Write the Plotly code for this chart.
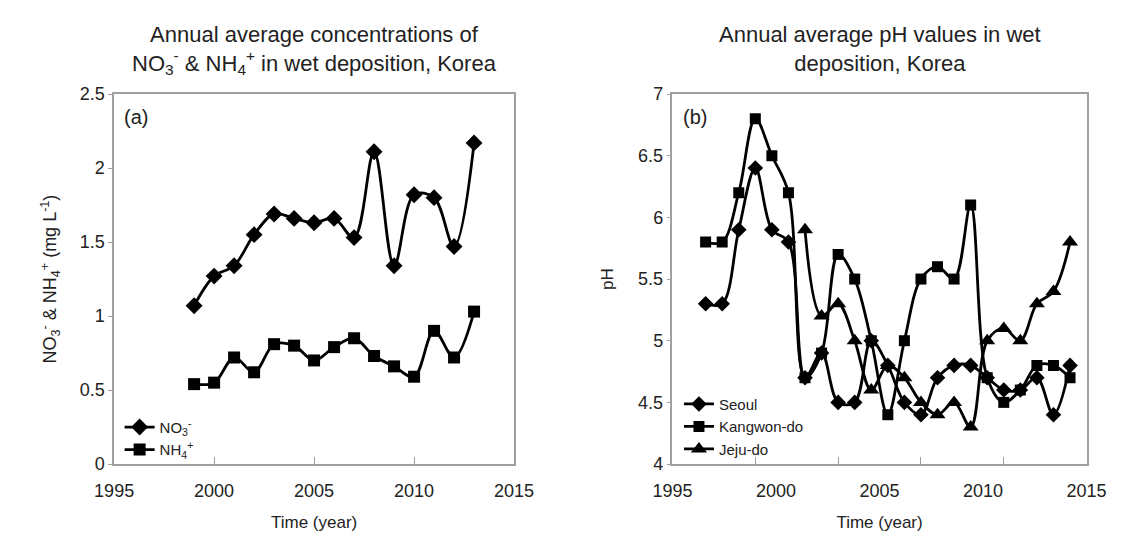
import plotly.graph_objects as go

# ---- data (a) ----
years_a = [1999, 2000, 2001, 2002, 2003, 2004, 2005, 2006, 2007, 2008, 2009, 2010, 2011, 2012, 2013]
no3 = [1.07, 1.27, 1.34, 1.55, 1.69, 1.66, 1.63, 1.66, 1.53, 2.11, 1.34, 1.82, 1.80, 1.47, 2.17]
nh4 = [0.54, 0.55, 0.72, 0.62, 0.81, 0.80, 0.70, 0.79, 0.85, 0.73, 0.66, 0.59, 0.90, 0.72, 1.03]

# ---- data (b) ----
years_b = [1992, 1993, 1994, 1995, 1996, 1997, 1998, 1999, 2000, 2001, 2002, 2003,
           2004, 2005, 2006, 2007, 2008, 2009, 2010, 2011, 2012, 2013, 2014]
seoul = [5.3, 5.3, 5.9, 6.4, 5.9, 5.8, 4.7, 4.9, 4.5, 4.5, 5.0, 4.8,
         4.5, 4.4, 4.7, 4.8, 4.8, 4.7, 4.6, 4.6, 4.7, 4.4, 4.8]
kangwon = [5.8, 5.8, 6.2, 6.8, 6.5, 6.2, 4.7, 4.9, 5.7, 5.5, 5.0, 4.4,
           5.0, 5.5, 5.6, 5.5, 6.1, 4.7, 4.5, 4.6, 4.8, 4.8, 4.7]
years_jeju = [1998, 1999, 2000, 2001, 2002, 2003, 2004, 2005, 2006, 2007, 2008,
              2009, 2010, 2011, 2012, 2013, 2014]
jeju = [5.9, 5.2, 5.3, 5.0, 4.6, 4.8, 4.7, 4.5, 4.4, 4.5, 4.3, 5.0, 5.1, 5.0, 5.3, 5.4, 5.8]

# tick labels as printed on the reference
b_tick_labels = ["1995", "2000", "2005", "2010", "2015"]

FONT = "Liberation Sans, Arial, sans-serif"
W, H = 1123, 537
AX = "#a0a0a0"
TXT = "#222"

def px_x(p):
    return p / W

def px_y(p):
    return 1 - p / H

fig = go.Figure()

line_kw = dict(color="black", width=2.8, shape="spline", smoothing=1.0)

fig.add_trace(go.Scatter(x=years_a, y=no3, mode="lines+markers", name="NO<sub>3</sub><sup>-</sup>",
                         line=line_kw, marker=dict(symbol="diamond", size=13, color="black"),
                         xaxis="x", yaxis="y", legend="legend"))
fig.add_trace(go.Scatter(x=years_a, y=nh4, mode="lines+markers", name="NH<sub>4</sub><sup>+</sup>",
                         line=line_kw, marker=dict(symbol="square", size=12, color="black"),
                         xaxis="x", yaxis="y", legend="legend"))

fig.add_trace(go.Scatter(x=years_b, y=seoul, mode="lines+markers", name="Seoul",
                         line=line_kw, marker=dict(symbol="diamond", size=12, color="black"),
                         xaxis="x2", yaxis="y2", legend="legend2"))
fig.add_trace(go.Scatter(x=years_b, y=kangwon, mode="lines+markers", name="Kangwon-do",
                         line=line_kw, marker=dict(symbol="square", size=11, color="black"),
                         xaxis="x2", yaxis="y2", legend="legend2"))
fig.add_trace(go.Scatter(x=years_jeju, y=jeju, mode="lines+markers", name="Jeju-do",
                         line=line_kw, marker=dict(symbol="triangle-up", size=14, color="black"),
                         xaxis="x2", yaxis="y2", legend="legend2"))

ydom = [px_y(463.3), px_y(79)]

common_axis = dict(showgrid=False, zeroline=False, showline=True, linecolor=AX, linewidth=1.5,
                   mirror=True, tickfont=dict(family=FONT, size=18, color=TXT),
                   tickcolor=AX)

xtitle_font = dict(family=FONT, size=17, color=TXT)

fig.update_layout(
    width=W, height=H, autosize=False,
    margin=dict(l=0, r=0, t=0, b=0),
    paper_bgcolor="white", plot_bgcolor="white",
    font=dict(family=FONT, color=TXT),
    xaxis=dict(common_axis, domain=[px_x(89.3), px_x(504)], range=[1995, 2015],
               tickvals=[1995, 2000, 2005, 2010, 2015], ticks="inside", ticklen=7,
               ticklabelstandoff=10, anchor="y",
               title=dict(text="Time (year)", font=xtitle_font, standoff=16)),
    yaxis=dict(common_axis, domain=ydom, range=[0, 2.5], tickvals=[0, 0.5, 1, 1.5, 2, 2.5],
               ticks="outside", ticklen=4, anchor="x",
               title=dict(text="NO<sub>3</sub><sup>-</sup> & NH<sub>4</sub><sup>+</sup> (mg L<sup>-1</sup>)",
                          font=dict(family=FONT, size=18, color=TXT), standoff=18)),
    xaxis2=dict(common_axis, domain=[px_x(668.3), px_x(1097.7)], range=[1990, 2015],
                tickvals=[1990, 1996.25, 2002.5, 2008.75, 2015], ticktext=b_tick_labels,
                ticks="", ticklabelstandoff=10, anchor="y2",
                minor=dict(tickvals=[1995, 2000, 2005, 2010], ticks="inside", ticklen=7, tickcolor=AX),
                title=dict(text="Time (year)", font=xtitle_font, standoff=16)),
    yaxis2=dict(common_axis, domain=ydom, range=[4, 7], tickvals=[4, 4.5, 5, 5.5, 6, 6.5, 7],
                ticks="outside", ticklen=4, anchor="x2",
                title=dict(text="pH", font=dict(family=FONT, size=17, color=TXT), standoff=20)),
    legend=dict(x=px_x(95), y=px_y(408), xanchor="left", yanchor="top",
                bgcolor="rgba(0,0,0,0)", font=dict(family=FONT, size=15, color=TXT),
                tracegroupgap=0, itemwidth=30),
    legend2=dict(x=px_x(675), y=px_y(384), xanchor="left", yanchor="top",
                 bgcolor="rgba(0,0,0,0)", font=dict(family=FONT, size=15, color=TXT),
                 tracegroupgap=0, itemwidth=30),
    showlegend=True,
)

fig.add_annotation(text="Annual average concentrations of<br>NO<sub>3</sub><sup>-</sup> & NH<sub>4</sub><sup>+</sup> in wet deposition, Korea",
                   x=px_x(296.7), y=px_y(2), xref="paper", yref="paper", xanchor="center", yanchor="top",
                   showarrow=False, font=dict(family=FONT, size=22, color=TXT))
fig.add_annotation(text="Annual average pH values in wet<br>deposition, Korea",
                   x=px_x(883), y=px_y(2), xref="paper", yref="paper", xanchor="center", yanchor="top",
                   showarrow=False, font=dict(family=FONT, size=22, color=TXT))
fig.add_annotation(text="(a)", x=px_x(112), y=px_y(103), xref="paper", yref="paper",
                   xanchor="center", yanchor="middle", showarrow=False,
                   font=dict(family=FONT, size=20, color=TXT))
fig.add_annotation(text="(b)", x=px_x(692), y=px_y(103), xref="paper", yref="paper",
                   xanchor="center", yanchor="middle", showarrow=False,
                   font=dict(family=FONT, size=20, color=TXT))

fig.write_html("out.html")
